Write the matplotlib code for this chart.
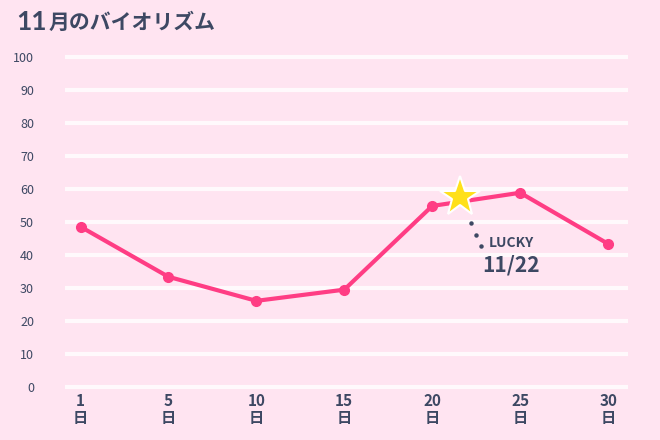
import matplotlib
matplotlib.use('Agg')
import matplotlib.pyplot as plt

plt.rcParams['font.family'] = ['Noto Sans CJK JP', 'DejaVu Sans']

days = ['1', '5', '10', '15', '20', '25', '30']
values = [48.5, 33.3, 26, 29.4, 54.8, 58.8, 43.3]
lucky_day = 22
lucky_value = 57.6

BG = '#ffe4f1'
LINE = '#ff3d84'
TEXT = '#3d4863'

fig = plt.figure(figsize=(6.6, 4.4), dpi=100, facecolor=BG)
ax = fig.add_axes([0.098, 0.114, 0.854, 0.764], facecolor=BG)

for v in range(0, 101, 10):
    ax.axhline(v, color='white', lw=3, alpha=0.8, zorder=0)

x = list(range(len(days)))
ax.plot(x, values, color=LINE, lw=3, marker='o', ms=7, zorder=3)

# star between 20 and 25
sx = 4 + (lucky_day - 20) / 5 * 0.8
ax.plot(sx, lucky_value, marker='*', ms=30, color='#ffe01a',
        markeredgecolor='white', markeredgewidth=1.5, zorder=4)
ax.plot([sx + 0.12, sx + 0.18, sx + 0.24], [lucky_value - 8, lucky_value - 11.5, lucky_value - 15],
        ls='none', marker='o', ms=2.2, color=TEXT)
ax.text(sx + 0.58, 43.5, 'LUCKY', color=TEXT, fontsize=10, fontweight='bold', ha='center', va='center')
ax.text(sx + 0.58, 37, '11/22', color=TEXT, fontsize=15, fontweight='bold', ha='center', va='center')

ax.set_xlim(-0.18, 6.23)
ax.set_ylim(-1, 101)
ax.set_yticks(range(0, 101, 10))
ax.set_xticks(x)
ax.set_xticklabels([d + '\n日' for d in days], color=TEXT, fontsize=11, fontweight='bold', linespacing=1.1)
ax.tick_params(axis='y', colors=TEXT, labelsize=9, length=0, pad=22)
ax.tick_params(axis='x', length=0, pad=2)
for s in ax.spines.values():
    s.set_visible(False)

fig.text(0.024, 0.95, '11', color=TEXT, fontsize=19, fontweight='bold', va='center', family=['Lato', 'DejaVu Sans'])
fig.text(0.073, 0.948, '月のバイオリズム', color=TEXT, fontsize=15, fontweight='bold', va='center')

fig.savefig('out.png', dpi=100, facecolor=BG)
